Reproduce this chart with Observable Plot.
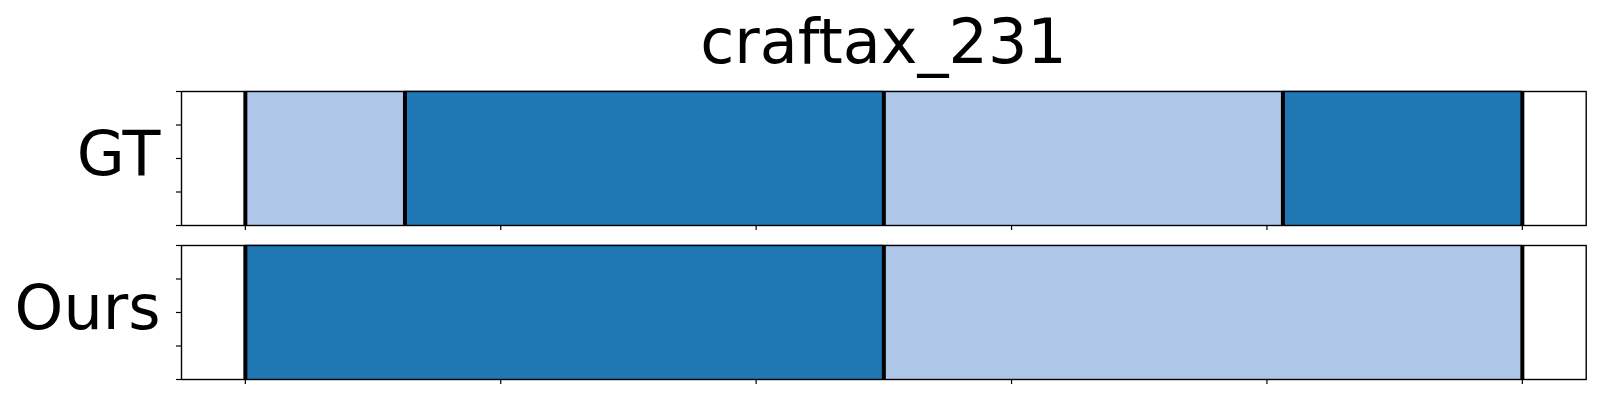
<!DOCTYPE html>
<html>
<head>
<meta charset="utf-8">
<script src="https://cdn.jsdelivr.net/npm/d3@7"></script>
<script src="https://cdn.jsdelivr.net/npm/@observablehq/plot@0.6"></script>
<style>
  html, body { margin: 0; padding: 0; background: #fff; }
  #title { width: 1600px; height: 80px; line-height: 84px; text-align: center;
           font-family: "DejaVu Sans", sans-serif; font-size: 62px; color: #000;
           padding-left: 181px; padding-right: 14px; box-sizing: border-box; white-space: nowrap; }
</style>
</head>
<body>
<div id="title"></div>
<div id="chart"></div>
<script>
// ---- data ----
const title = "craftax_231";
const rows = ["GT", "Ours"];
// segment boundaries (normalized time) and segment classes per row
const gtBounds = [0, 0.125, 0.5, 0.8125, 1.0];
const gtClasses = [1, 0, 1, 0];
const oursBounds = [0, 0.5, 1.0];
const oursClasses = [0, 1];
const classColors = ["#1f77b4", "#aec7e8"];
const xTicks = [0, 0.2, 0.4, 0.6, 0.8, 1.0];
const yTicks = [0, 0.25, 0.5, 0.75, 1.0];

// ---- tables built from the arrays ----
function segs(row, bounds, classes) {
  return classes.map((c, i) => ({row, x1: bounds[i], x2: bounds[i + 1], cls: c}));
}
function lines(row, bounds) {
  return bounds.map(x => ({row, x}));
}
const segments = [...segs("GT", gtBounds, gtClasses), ...segs("Ours", oursBounds, oursClasses)];
const boundaries = [...lines("GT", gtBounds), ...lines("Ours", oursBounds)];

document.getElementById("title").textContent = title;

const plot = Plot.plot({
  width: 1600,
  height: 320,
  marginTop: 10.3,
  marginBottom: 19.7,
  marginLeft: 181,
  marginRight: 14.3,
  style: {fontFamily: "DejaVu Sans, sans-serif", background: "#fff", color: "#000"},
  x: {domain: [-0.05, 1.05]},
  y: {domain: [0, 1]},
  fy: {domain: rows, paddingInner: 0.129, paddingOuter: 0},
  color: {type: "ordinal", domain: [0, 1], range: classColors},
  marks: [
    Plot.barX(segments, {x1: "x1", x2: "x2", fy: "row", fill: "cls", stroke: "cls", strokeWidth: 0.8}),
    Plot.ruleX(boundaries, {x: "x", fy: "row", stroke: "black", strokeWidth: 4}),
    Plot.frame({stroke: "black", strokeWidth: 1.4}),
    Plot.axisY({ticks: yTicks, anchor: "left", tickSize: 5, strokeWidth: 1.2, fill: "none", label: null, facetAnchor: null}),
    Plot.axisX({ticks: xTicks, anchor: "bottom", tickSize: 5, strokeWidth: 1.2, fill: "none", label: null, facetAnchor: null}),
    Plot.axisFy({anchor: "left", label: null, tickSize: 0, tickPadding: 21, fontSize: 62, dy: -3})
  ]
});
document.getElementById("chart").appendChild(plot);
</script>
</body>
</html>
